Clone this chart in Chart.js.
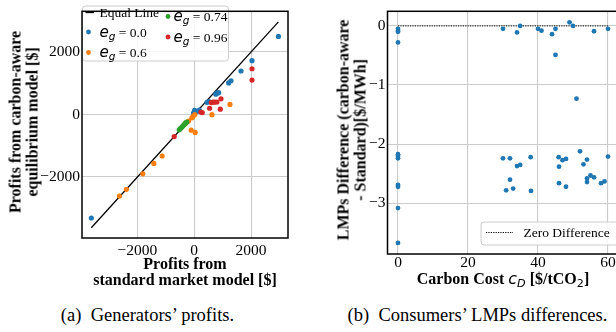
<!DOCTYPE html>
<html><head><meta charset="utf-8">
<script src="https://cdn.jsdelivr.net/npm/chart.js@4.4.1/dist/chart.umd.min.js"></script>
<style>
html,body{margin:0;padding:0;background:#fff;}
#wrap{position:relative;width:616px;height:332px;overflow:hidden;background:#fff;}
canvas{position:absolute;top:0;}
#ca{left:0;}
#cb{left:300px;}
.t{position:absolute;font-family:'Liberation Serif','Times New Roman',serif;font-weight:bold;font-size:16px;line-height:16.5px;white-space:nowrap;text-align:center;color:#000;transform:translate(-50%,-50%);}
.r{transform:translate(-50%,-50%) rotate(-90deg);}
.cap{position:absolute;font-family:'Liberation Serif','Times New Roman',serif;font-size:18.5px;line-height:20px;white-space:nowrap;color:#000;transform:translate(-50%,-50%);}
.m{font-family:'DejaVu Sans',sans-serif;font-style:italic;font-weight:normal;}
sub{font-size:70%;vertical-align:-3px;line-height:0;}
</style>
</head><body>
<div id="wrap">
<canvas id="ca" width="300" height="300"></canvas>
<canvas id="cb" width="330" height="300"></canvas>
<div class="t r" style="left:23.5px;top:122px;">Profits from carbon-aware<br>equilibrium model [$]</div>
<div class="t" style="left:185px;top:271.5px;">Profits from<br>standard market model [$]</div>
<div class="t r" style="left:352px;top:130px;">LMPs Difference (carbon-aware<br>- Standard)[$/MWh]</div>
<div class="t" style="left:503px;top:279px;">Carbon Cost <span class="m">c<sub>D</sub></span> [$/tCO<sub class="m" style="font-style:normal">2</sub>]</div>
<div class="cap" style="left:147.5px;top:315px;">(a)&ensp;Generators’ profits.</div>
<div class="cap" style="left:477.5px;top:315px;">(b)&ensp;Consumers’ LMPs differences.</div>
</div>
<script>
// ---- data: left panel (generators' profits) [standard, carbon-aware] ----
const GEN_X_TICKS = [-2000, 0, 2000];
const GEN_Y_TICKS = [-2000, 0, 2000];
const genEg00 = [[-3622,-3311],[-25,47],[12,130],[94,99],[180,140],[450,390],[520,409],[760,650],[800,680],[858,697],[1211,1008],[1294,1079],[1646,1390],[2034,1720],[2963,2495]];
const genEg06 = [[-2634,-2610],[-2388,-2393],[-1810,-1897],[-1421,-1566],[-1129,-1327],[-317,-294],[-201,-211],[-81,-108],[-40,-60],[20,0],[-106,-502],[35,-574],[623,-6],[1257,322]];
const genEg074 = [[-530,-490],[-490,-450],[-450,-420],[-410,-380],[-370,-340],[-330,-300],[-290,-260],[-260,-240]];
const genEg096 = [[-705,-707],[236,78],[282,60],[540,200],[600,380],[660,400],[720,395],[800,400],[942,502],[917,170],[2034,1463],[2034,1100]];
const equalLine = [-3622, 2963];
const genLabels = ['Equal Line', '0.0', '0.6', '0.74', '0.96'];

// ---- data: right panel (LMP differences) [carbon cost, difference] ----
const LMP_X_TICKS = [0, 20, 40, 60];
const LMP_Y_TICKS = [0, -1, -2, -3];
const lmpCost = [0,0,0,0,0,0,0,0,0,0,0, 30,30,30.9,32,32,32.9,34,34,34.9,34.9,37.9,38,40,41,44,45,45,45.9,46,46,47,48,48,49,50,51,52,53,54,54,54,55,56,56,58,59,60,60];
const lmpDiff = [-0.05,-0.08,-0.10,-0.28,-2.17,-2.20,-2.24,-2.69,-2.72,-3.08,-3.67, -0.05,-2.24,-2.78,-2.24,-2.60,-2.75,-0.11,-2.37,0.0,-2.35,-2.22,-2.79,-0.05,-0.08,-0.14,-0.05,-0.49,-2.22,-2.38,-2.66,-2.27,-2.25,-2.72,0.06,0.0,-1.23,-2.12,-2.34,-2.26,-2.58,-2.64,-2.53,-0.09,-2.56,-2.66,-2.63,-0.05,-2.21];
const zeroLine = [0, 60];
const lmpLegend = 'Zero Difference';

// ---- styling ----
const C = {blue:'#1f77b4', orange:'#ff7f0e', green:'#2ca02c', red:'#d62728'};
const SERIF = "Liberation Serif";
Chart.defaults.font.family = SERIF;
Chart.defaults.color = '#000';
const toPts = a => a.map(p => ({x:p[0], y:p[1]}));
const fmt = v => (v < 0 ? '\u2212' : '') + Math.abs(v);
const R = 2.6;

function scat(data, color, order){
  return {type:'scatter', data:toPts(data), backgroundColor:color, borderWidth:0, pointRadius:R, pointHoverRadius:R, order:order};
}
function axis(ticks, min, max, fit, pad){
  return {
    type:'linear', min:min, max:max,
    afterBuildTicks: s => { s.ticks = ticks.map(v => ({value:v})); },
    afterFit: fit,
    grid:{color:'#cccccc', lineWidth:1.1, drawTicks:false},
    border:{display:false},
    ticks:{autoSkip:false, maxRotation:0, color:'#000', padding:pad, font:{family:SERIF, size:15.5, weight:'normal'}, callback: v => fmt(v)}
  };
}
const frame = {id:'frame', afterDraw(ch){
  const a = ch.chartArea, ctx = ch.ctx;
  ctx.save(); ctx.strokeStyle = '#000'; ctx.lineWidth = 1.5;
  ctx.strokeRect(a.left, a.top, a.right - a.left, a.bottom - a.top);
  ctx.restore();
}};
function box(ctx, x, y, w, h){
  ctx.save();
  ctx.beginPath(); ctx.roundRect(x, y, w, h, 3);
  ctx.fillStyle = 'rgba(255,255,255,0.85)'; ctx.fill();
  ctx.strokeStyle = '#cccccc'; ctx.lineWidth = 1; ctx.stroke();
  ctx.restore();
}
function egLabel(ctx, x, cy, val){
  const base = cy + 4.5;
  ctx.fillStyle = '#000'; ctx.textBaseline = 'alphabetic'; ctx.textAlign = 'left';
  ctx.font = "italic 15px 'DejaVu Sans'"; ctx.fillText('e', x, base);
  x += ctx.measureText('e').width;
  ctx.font = "italic 10.5px 'DejaVu Sans'"; ctx.fillText('g', x, base + 3);
  x += ctx.measureText('g').width;
  ctx.font = "13.5px '" + SERIF + "'"; ctx.fillText(' = ' + val, x, base);
}
const genLegend = {id:'genLegend', afterDatasetsDraw(ch){
  const ctx = ch.ctx;
  box(ctx, 82.5, 6, 146, 55);
  ctx.save();
  ctx.strokeStyle = '#000'; ctx.lineWidth = 1.3;
  ctx.beginPath(); ctx.moveTo(85.5, 12.5); ctx.lineTo(94, 12.5); ctx.stroke();
  ctx.fillStyle = '#000'; ctx.font = "13.5px '" + SERIF + "'"; ctx.textBaseline = 'middle';
  ctx.fillText(genLabels[0], 99.5, 13);
  const items = [[88.5,32,C.blue,genLabels[1],99.5],[88.5,52.5,C.orange,genLabels[2],99.5],[168,16.5,C.green,genLabels[3],173.5],[168,37,C.red,genLabels[4],173.5]];
  items.forEach(it => {
    ctx.beginPath(); ctx.arc(it[0], it[1], 2.4, 0, Math.PI*2); ctx.fillStyle = it[2]; ctx.fill();
    egLabel(ctx, it[4], it[1], it[3]);
  });
  ctx.restore();
}};
const lmpLeg = {id:'lmpLeg', afterDatasetsDraw(ch){
  const ctx = ch.ctx;
  box(ctx, 181, 222, 160, 23);
  ctx.save();
  ctx.strokeStyle = '#000'; ctx.lineWidth = 1; ctx.setLineDash([1.2,1.2]);
  ctx.beginPath(); ctx.moveTo(186, 232.5); ctx.lineTo(213, 232.5); ctx.stroke();
  ctx.setLineDash([]);
  ctx.fillStyle = '#000'; ctx.font = "13.5px '" + SERIF + "'"; ctx.textBaseline = 'middle';
  ctx.fillText(lmpLegend, 223.5, 233);
  ctx.restore();
}};

const common = {responsive:false, animation:false, events:[], plugins:{legend:{display:false}, tooltip:{enabled:false}}};

new Chart(document.getElementById('ca'), {
  data:{datasets:[
    {type:'line', data:[{x:equalLine[0],y:equalLine[0]},{x:equalLine[1],y:equalLine[1]}], borderColor:'#000', borderWidth:1.3, pointRadius:0, order:9},
    scat(genEg00, C.blue, 4),
    scat(genEg06, C.orange, 3),
    scat(genEg074, C.green, 2),
    scat(genEg096, C.red, 1)
  ]},
  options:Object.assign({}, common, {
    layout:{padding:{top:6, right:12, left:0, bottom:0}},
    scales:{
      x: axis(GEN_X_TICKS, -3950, 3300, s => { s.height = 62; }, 4),
      y: axis(GEN_Y_TICKS, -3950, 3300, s => { s.width = 82; }, 2)
    }
  }),
  plugins:[genLegend, frame]
});

new Chart(document.getElementById('cb'), {
  data:{datasets:[
    {type:'line', data:[{x:zeroLine[0],y:0},{x:zeroLine[1],y:0}], borderColor:'#000', borderWidth:1, borderDash:[1.2,1.2], pointRadius:0, order:9},
    {type:'scatter', data:lmpCost.map((c,i)=>({x:c, y:lmpDiff[i]})), backgroundColor:C.blue, borderWidth:0, pointRadius:2.4, pointHoverRadius:2.4, order:1}
  ]},
  options:Object.assign({}, common, {
    layout:{padding:{top:6, right:11.5, left:0, bottom:0}},
    scales:{
      x: axis(LMP_X_TICKS, -3, 63, s => { s.height = 46; }, 0),
      y: axis(LMP_Y_TICKS, -3.857, 0.247, s => { s.width = 87.5; }, 2)
    }
  }),
  plugins:[lmpLeg, frame]
});
</script>
</body></html>
